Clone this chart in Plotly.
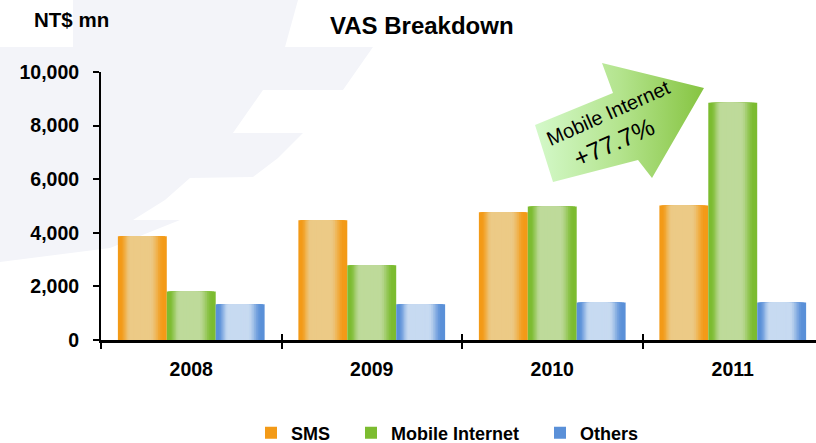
import plotly.graph_objects as go

# ---------------- data ----------------
years = ["2008", "2009", "2010", "2011"]
sms = [3870, 4470, 4770, 5020]
mobile_internet = [1810, 2790, 4980, 8850]
others = [1330, 1330, 1400, 1400]
series_names = ["SMS", "Mobile Internet", "Others"]
y_ticks = [0, 2000, 4000, 6000, 8000, 10000]

W, H = 816, 443
FONT = "Liberation Sans, Arial, sans-serif"

# pixel layout of the plotting area
PX_L, PX_R, PX_T, PX_B = 101, 816, 72, 340


def px(xp):
    return xp / W


def py(yp):
    return 1 - yp / H


def hex2rgb(h):
    h = h.lstrip("#")
    return tuple(int(h[i:i + 2], 16) for i in (0, 2, 4))


def lerp(c1, c2, t):
    a, b = hex2rgb(c1), hex2rgb(c2)
    return "rgb(%d,%d,%d)" % tuple(round(a[i] + (b[i] - a[i]) * t) for i in range(3))


styles = [
    ("#F39A17", "#ECCA86"),   # SMS
    ("#7CBC30", "#BEDA9A"),   # Mobile Internet
    ("#5A90D8", "#C7DAF1"),   # Others
]
legend_ids = ["legend", "legend2", "legend3"]
legend_text_px = [288, 388, 577]

values = [sms, mobile_internet, others]
xpos = list(range(len(years)))
bar_w = 0.271
N = 16

fig = go.Figure()
for i, (name, vals, (edge, center)) in enumerate(zip(series_names, values, styles)):
    c_off = (i - 1) * bar_w
    for k in range(N):
        f = 1 - k / N
        d = f - 0.5 / N
        t = min(1.0, max(0.0, (0.88 - d) / 0.48))
        t = t * t * (3 - 2 * t)
        width = bar_w * f
        shift = -0.07 * bar_w * (1 - f)
        fig.add_trace(go.Bar(
            x=xpos, y=vals, name=name, legendgroup=name, legend=legend_ids[i],
            showlegend=(k == 0),
            width=width, offset=c_off - width / 2 + shift,
            marker=dict(color=lerp(edge, center, t), line=dict(width=0)),
            opacity=1, hoverinfo="skip" if k else None,
        ))

# arrow (pixel-space overlay axes)
arrow_x = [553, 535, 613, 602, 704, 652, 638, 553]
arrow_y = [182, 125, 93, 63, 88, 178, 160, 182]
fig.add_trace(go.Scatter(
    x=arrow_x, y=arrow_y, xaxis="x2", yaxis="y2", mode="lines",
    line=dict(width=0, color="rgba(0,0,0,0)"), fill="toself",
    fillgradient=dict(type="horizontal",
                      colorscale=[[0, "#D4F9CA"], [0.5, "#B4E48E"], [1, "#86C441"]]),
    showlegend=False, hoverinfo="skip",
))

# invisible trace to materialise the boundary-tick overlay axis
fig.add_trace(go.Scatter(x=[0], y=[0], xaxis="x3", yaxis="y", mode="markers",
                         marker=dict(opacity=0), showlegend=False, hoverinfo="skip"))

# background swoosh
pts = [(73, 0), (298, 0), (285, 47), (373, 47), (343, 90), (263, 90), (233, 133),
       (303, 133), (278, 158), (253, 177), (190, 178), (165, 200), (133, 220), (180, 220),
       (110, 248), (0, 262), (0, 47), (73, 47)]
path = "M " + " L ".join("%.4f,%.4f" % (px(a), py(b)) for a, b in pts) + " Z"

xdom = [px(PX_L), 1.0]
ydom = [py(PX_B), py(PX_T)]
xr = [-0.5, -0.5 + (PX_R - PX_L) / 180.5]

legend_common = dict(orientation="h", yanchor="middle", xanchor="left", y=py(433),
                     font=dict(size=18, weight="bold", family=FONT),
                     bgcolor="rgba(0,0,0,0)", borderwidth=0)

fig.update_layout(
    width=W, height=H,
    margin=dict(l=0, r=0, t=0, b=0, autoexpand=False),
    paper_bgcolor="white", plot_bgcolor="rgba(0,0,0,0)",
    barmode="overlay",
    font=dict(family=FONT, color="black"),
    shapes=[dict(type="path", path=path, xref="paper", yref="paper",
                 fillcolor="#F3F4F9", line=dict(width=0), layer="below")],
    xaxis=dict(domain=xdom, range=xr, tickvals=xpos, ticktext=years,
               ticks="", showline=True, linecolor="black", linewidth=3,
               showgrid=False, zeroline=False, ticklabelstandoff=10,
               automargin=False,
               tickfont=dict(size=19.5, weight="bold", family=FONT),
               minor=dict(ticks="outside", tick0=0.5, dtick=1, ticklen=6,
                          tickwidth=2, tickcolor="black", showgrid=False)),
    xaxis3=dict(overlaying="x", anchor="y", range=xr, tickvals=[-0.5, 0.5, 1.5, 2.5],
                ticks="inside", ticklen=6, tickwidth=2, tickcolor="black",
                showticklabels=False, showline=False, showgrid=False, zeroline=False),
    yaxis=dict(domain=ydom, range=[0, 10000], tickvals=y_ticks, tickformat=",",
               ticks="outside", ticklen=6, tickwidth=2, tickcolor="black",
               showline=True, linecolor="black", linewidth=2, automargin=False,
               showgrid=False, zeroline=False, ticklabelstandoff=10,
               tickfont=dict(size=19.5, weight="bold", family=FONT)),
    xaxis2=dict(domain=[0, 1], range=[0, W], visible=False, anchor="y2"),
    yaxis2=dict(domain=[0, 1], range=[H, 0], visible=False, anchor="x2"),
    legend=dict(legend_common, x=px(legend_text_px[0] - 37)),
    legend2=dict(legend_common, x=px(legend_text_px[1] - 37)),
    legend3=dict(legend_common, x=px(legend_text_px[2] - 37)),
    annotations=[
        dict(text="VAS Breakdown", x=px(422), y=py(25), xref="paper", yref="paper",
             xanchor="center", yanchor="middle",
             showarrow=False, font=dict(size=24, weight="bold", family=FONT)),
        dict(text="NT$ mn", x=px(71), y=py(19), xref="paper", yref="paper",
             xanchor="center", yanchor="middle",
             showarrow=False, font=dict(size=20.5, weight="bold", family=FONT)),
        dict(text="Mobile Internet", x=px(608), y=py(113), xref="paper", yref="paper",
             xanchor="center", yanchor="middle",
             showarrow=False, textangle=-24, font=dict(size=20, family=FONT)),
        dict(text="+77.7%", x=px(614), y=py(142), xref="paper", yref="paper",
             xanchor="center", yanchor="middle",
             showarrow=False, textangle=-24, font=dict(size=25, family=FONT)),
    ],
)

fig.write_html(
    "out.html",
    config={"displayModeBar": False},
    post_script="document.body.style.margin='0px';document.body.style.overflow='hidden';",
)
